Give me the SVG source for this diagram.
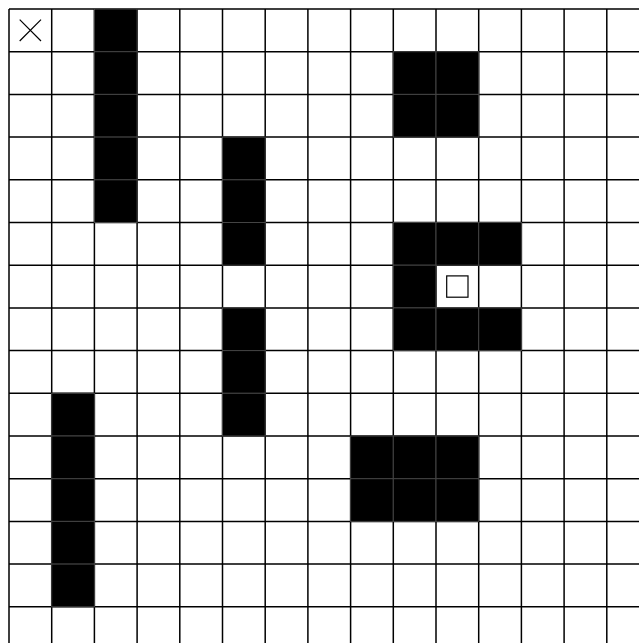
<svg xmlns="http://www.w3.org/2000/svg" width="639" height="643" viewBox="0 0 639 643">
  <defs>
    <rect id="cell" width="42.7" height="42.7"/>
  </defs>
  <style>
    .wall { fill: #000; stroke: #444; stroke-width: 1; }
    .grid { stroke: #000; stroke-width: 1.5; fill: none; }
    .mark { stroke: #000; stroke-width: 1.2; fill: none; }
  </style>
  <rect x="0" y="0" width="639" height="643" fill="#fff"/>
  <g id="grid">
    <path class="grid" d="M9 9V643 M51.7 9V643 M94.4 9V643 M137.1 9V643 M179.8 9V643 M222.5 9V643 M265.2 9V643 M307.9 9V643 M350.6 9V643 M393.3 9V643 M436 9V643 M478.7 9V643 M521.4 9V643 M564.1 9V643 M606.8 9V643"/>
    <path class="grid" d="M9 9H639 M9 51.7H639 M9 94.4H639 M9 137.1H639 M9 179.8H639 M9 222.5H639 M9 265.2H639 M9 307.9H639 M9 350.6H639 M9 393.3H639 M9 436H639 M9 478.7H639 M9 521.4H639 M9 564.1H639 M9 606.8H639"/>
  </g>
  <g id="walls" class="wall">
    <use href="#cell" x="94.4" y="9"/>
    <use href="#cell" x="94.4" y="51.7"/>
    <use href="#cell" x="94.4" y="94.4"/>
    <use href="#cell" x="94.4" y="137.1"/>
    <use href="#cell" x="94.4" y="179.8"/>
    <use href="#cell" x="393.3" y="51.7"/>
    <use href="#cell" x="436" y="51.7"/>
    <use href="#cell" x="393.3" y="94.4"/>
    <use href="#cell" x="436" y="94.4"/>
    <use href="#cell" x="222.5" y="137.1"/>
    <use href="#cell" x="222.5" y="179.8"/>
    <use href="#cell" x="222.5" y="222.5"/>
    <use href="#cell" x="393.3" y="222.5"/>
    <use href="#cell" x="436" y="222.5"/>
    <use href="#cell" x="478.7" y="222.5"/>
    <use href="#cell" x="393.3" y="265.2"/>
    <use href="#cell" x="393.3" y="307.9"/>
    <use href="#cell" x="436" y="307.9"/>
    <use href="#cell" x="478.7" y="307.9"/>
    <use href="#cell" x="222.5" y="307.9"/>
    <use href="#cell" x="222.5" y="350.6"/>
    <use href="#cell" x="222.5" y="393.3"/>
    <use href="#cell" x="51.7" y="393.3"/>
    <use href="#cell" x="51.7" y="436"/>
    <use href="#cell" x="51.7" y="478.7"/>
    <use href="#cell" x="51.7" y="521.4"/>
    <use href="#cell" x="51.7" y="564.1"/>
    <use href="#cell" x="350.6" y="436"/>
    <use href="#cell" x="393.3" y="436"/>
    <use href="#cell" x="436" y="436"/>
    <use href="#cell" x="350.6" y="478.7"/>
    <use href="#cell" x="393.3" y="478.7"/>
    <use href="#cell" x="436" y="478.7"/>
  </g>
  <g id="start">
    <path class="mark" d="M19.7 19.7L41 41 M41 19.7L19.7 41"/>
  </g>
  <g id="goal">
    <rect class="mark" x="446.7" y="275.9" width="21.3" height="21.3"/>
  </g>
</svg>
